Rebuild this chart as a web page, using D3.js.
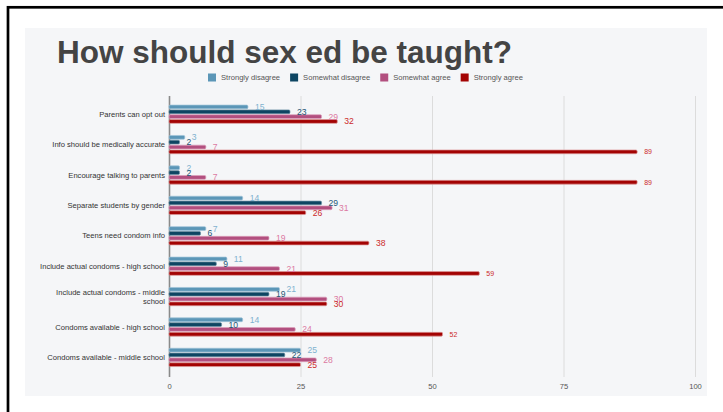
<!DOCTYPE html>
<html>
<head>
<meta charset="utf-8">
<script src="https://cdn.jsdelivr.net/npm/d3@7/dist/d3.min.js"></script>
<style>
  html, body { margin: 0; padding: 0; background: #ffffff; }
  svg { display: block; font-family: "Liberation Sans", Arial, sans-serif; }
</style>
</head>
<body>
<svg id="chart" width="723" height="412"></svg>
<script>
// Survey statements, top to bottom
const categories = [
  "Parents can opt out",
  "Info should be medically accurate",
  "Encourage talking to parents",
  "Separate students by gender",
  "Teens need condom info",
  "Include actual condoms - high school",
  "Include actual condoms - middle school",
  "Condoms available - high school",
  "Condoms available - middle school"
];

// Response categories (legend order)
const seriesNames = ["Strongly disagree", "Somewhat disagree", "Somewhat agree", "Strongly agree"];

// Percent of respondents per statement
const stronglyDisagree = [15, 3, 2, 14, 7, 11, 21, 14, 25];
const somewhatDisagree = [23, 2, 2, 29, 6, 9, 19, 10, 22];
const somewhatAgree    = [29, 7, 7, 31, 19, 21, 30, 24, 28];
const stronglyAgree    = [32, 89, 89, 26, 38, 59, 30, 52, 25];

const xTicks = [0, 25, 50, 75, 100];

const seriesValues = [stronglyDisagree, somewhatDisagree, somewhatAgree, stronglyAgree];
const barFill   = ["#5b96b7", "#0d4562", "#b24f7f", "#a30303"];
const barStroke = ["#9fc3d8", "#6b8fa3", "#dca1bc", "#dc9a9a"];
const labelFill = ["#7fb2cf", "#1e5676", "#dc7aa2", "#cc2a2a"];

const svg = d3.select("#chart");

// outer frame and card background
svg.append("rect")
  .attr("x", 8).attr("y", 7.3).attr("width", 800).attr("height", 500)
  .attr("fill", "none").attr("stroke", "#000").attr("stroke-width", 2.7);
svg.append("rect")
  .attr("x", 25).attr("y", 28).attr("width", 682).attr("height", 368)
  .attr("fill", "#f5f6f8");

// title
svg.append("text")
  .attr("x", 57).attr("y", 62.5)
  .attr("font-size", 31.5).attr("font-weight", "bold")
  .attr("fill", "#444444")
  .text("How should sex ed be taught?");

// legend
const legend = svg.append("g").attr("transform", "translate(208,77.5)");
let lx = 0;
seriesNames.forEach((name, i) => {
  const g = legend.append("g").attr("transform", `translate(${lx},0)`);
  g.append("rect").attr("x", 0).attr("y", -4).attr("width", 8).attr("height", 8)
    .attr("fill", barFill[i]);
  const t = g.append("text").attr("x", 13).attr("y", 0)
    .attr("dominant-baseline", "central")
    .attr("font-size", 7.6).attr("fill", "#555")
    .text(name);
  lx += 13 + t.node().getComputedTextLength() + 10;
});

// scales
const x = d3.scaleLinear().domain([0, 100]).range([169, 695]);
const y = d3.scaleBand().domain(categories).range([99, 372.6]).paddingInner(0).paddingOuter(0);
const inner = d3.scaleBand().domain(d3.range(4)).range([-10.2, 10.2]).padding(0.22);

// vertical gridlines from the axis generator
const grid = d3.axisBottom(x).tickValues(xTicks).tickSize(-281).tickFormat("");
svg.append("g")
  .attr("transform", "translate(0,377)")
  .call(grid)
  .call(g => g.select(".domain").remove())
  .call(g => g.selectAll(".tick line")
    .attr("stroke", d => d === 0 ? "#8a8a8a" : "#dcdcdc")
    .attr("stroke-width", d => d === 0 ? 1.6 : 1));

// tick labels
const axis = d3.axisBottom(x).tickValues(xTicks).tickSize(0).tickPadding(0);
svg.append("g")
  .attr("transform", "translate(0,386)")
  .call(axis)
  .call(g => g.select(".domain").remove())
  .call(g => g.selectAll(".tick text")
    .attr("dy", "0.35em").attr("y", 0)
    .attr("font-size", 7.6).attr("fill", "#555")
    .attr("font-family", "Liberation Sans, Arial, sans-serif"));

// category labels
const catWrap = {
  "Include actual condoms - middle school": ["Include actual condoms - middle", "school"]
};
const catG = svg.append("g");
categories.forEach(c => {
  const lines = catWrap[c] || [c];
  const cy = y(c) + y.bandwidth() / 2;
  const t = catG.append("text")
    .attr("x", 165)
    .attr("text-anchor", "end")
    .attr("font-size", 7.6).attr("fill", "#333");
  lines.forEach((ln, k) => {
    t.append("tspan")
      .attr("x", 165)
      .attr("y", cy + (k - (lines.length - 1) / 2) * 9)
      .attr("dy", "0.35em")
      .text(ln);
  });
});

// bars and value labels
const rows = [];
categories.forEach((c, ci) => {
  seriesValues.forEach((vals, si) => {
    rows.push({ cat: c, s: si, v: vals[ci] });
  });
});

const barY = d => y(d.cat) + y.bandwidth() / 2 + inner(d.s);

svg.append("g").selectAll("rect")
  .data(rows)
  .join("rect")
  .attr("x", x(0))
  .attr("y", barY)
  .attr("width", d => x(d.v) - x(0))
  .attr("height", inner.bandwidth())
  .attr("rx", 1.2)
  .attr("fill", d => barFill[d.s])
  .attr("stroke", d => barStroke[d.s])
  .attr("stroke-width", 0.7);

svg.append("g").selectAll("text")
  .data(rows)
  .join("text")
  .attr("x", d => x(d.v) + 7)
  .attr("y", d => barY(d) + inner.bandwidth() / 2)
  .attr("dy", "0.35em")
  .attr("font-size", d => d.v > 50 ? 7 : 8.6)
  .attr("fill", d => labelFill[d.s])
  .text(d => d.v);
</script>
</body>
</html>
